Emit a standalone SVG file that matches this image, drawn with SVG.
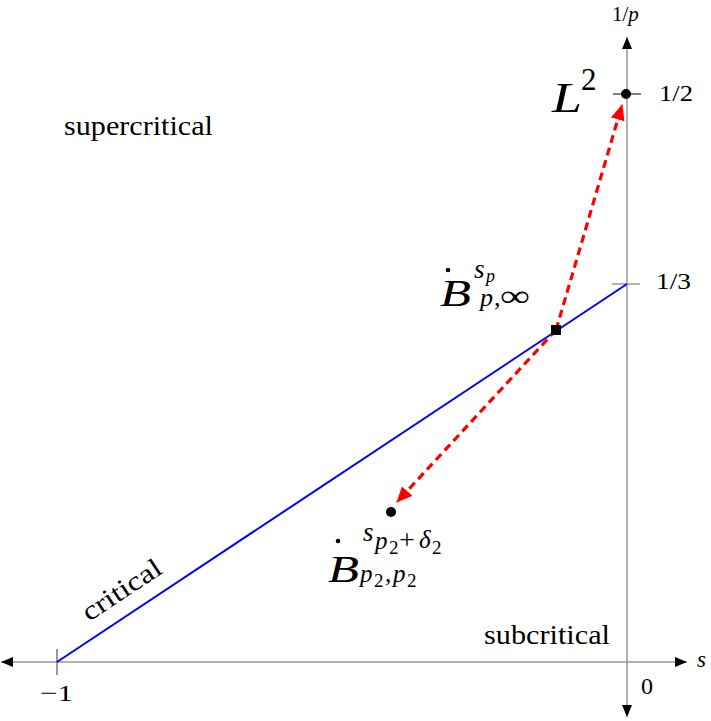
<svg xmlns="http://www.w3.org/2000/svg" width="711" height="721" viewBox="0 0 711 721">
<defs>
<style>
text{font-family:'Liberation Serif','DejaVu Serif',serif;fill:#000}
.i{font-style:italic}
.axis{stroke:#999;stroke-width:1.5;fill:none}
.red{stroke:#ff0000;stroke-width:3.2;stroke-dasharray:8,5;fill:none}
</style>
<marker id="ax" viewBox="0 0 12 10" refX="12" refY="5" markerWidth="12" markerHeight="10" markerUnits="userSpaceOnUse" orient="auto">
<path d="M0,0 L12,5 L0,10 Z" fill="#000"/>
</marker>
<marker id="ra" viewBox="0 0 16 14" refX="15" refY="7" markerWidth="16" markerHeight="14" markerUnits="userSpaceOnUse" orient="auto">
<path d="M0,0 L16,7 L0,14 Z" fill="#ff0000"/>
</marker>
</defs>
<rect width="711" height="721" fill="#fff"/>

<g font-family="Liberation Serif, DejaVu Serif, serif">
<g id="axes">
<line class="axis" x1="627" y1="662" x2="1" y2="662" marker-end="url(#ax)"/>
<line class="axis" x1="627" y1="662" x2="687" y2="662" marker-end="url(#ax)"/>
<line class="axis" x1="627" y1="662" x2="627" y2="37" marker-end="url(#ax)"/>
<line class="axis" x1="627" y1="662" x2="627" y2="717" marker-end="url(#ax)"/>
<line x1="57" y1="649" x2="57" y2="675" stroke="#555" stroke-width="1.2"/>
<line x1="612" y1="284" x2="640" y2="284" stroke="#999" stroke-width="1.5"/>
<line x1="613" y1="94" x2="641" y2="94" stroke="#000" stroke-width="1"/>
<text x="612" y="21" font-size="21">1/<tspan class="i">p</tspan></text>
<text x="659" y="101" font-size="23" textLength="34" lengthAdjust="spacingAndGlyphs">1/2</text>
<text x="656" y="289" font-size="23" textLength="35" lengthAdjust="spacingAndGlyphs">1/3</text>
<text class="i" x="697" y="667" font-size="23">s</text>
<text x="641" y="694" font-size="24">0</text>
<text x="40" y="701" font-size="24" textLength="33" lengthAdjust="spacingAndGlyphs">−1</text>
</g>

<g id="critical-line">
<line x1="57" y1="662" x2="627" y2="284" stroke="#0000ff" stroke-width="2"/>
<text x="0" y="0" font-size="27" textLength="90" lengthAdjust="spacingAndGlyphs" transform="translate(89,622) rotate(-33.56)">critical</text>
</g>

<g id="regions">
<text x="64" y="135" font-size="27" textLength="149" lengthAdjust="spacingAndGlyphs">supercritical</text>
<text x="484" y="644" font-size="27" textLength="126" lengthAdjust="spacingAndGlyphs">subcritical</text>
</g>

<g id="connectors">
<line class="red" x1="556" y1="330" x2="622" y2="105" marker-end="url(#ra)"/>
<line class="red" x1="556" y1="330" x2="397" y2="502" marker-end="url(#ra)"/>
</g>

<g id="node-L2">
<circle cx="626" cy="94" r="5" fill="#000"/>
<text class="i" x="552" y="112" font-size="43" textLength="30" lengthAdjust="spacingAndGlyphs">L</text>
<text x="581" y="90" font-size="31">2</text>
</g>

<g id="node-Bp">
<rect x="551" y="325" width="10" height="10" fill="#000"/>
<circle cx="448" cy="270" r="2.3" fill="#000"/>
<text class="i" x="440" y="306" font-size="38" textLength="31" lengthAdjust="spacingAndGlyphs">B</text>
<text class="i" x="474" y="278" font-size="27">s</text>
<text class="i" x="486" y="282" font-size="18">p</text>
<text class="i" x="480" y="306" font-size="26">p</text>
<text x="494" y="306" font-size="26">,</text>
<text x="500" y="306" font-size="30" textLength="30" lengthAdjust="spacingAndGlyphs">∞</text>
</g>

<g id="node-Bp2">
<circle cx="391" cy="512" r="5" fill="#000"/>
<circle cx="338" cy="541" r="2.3" fill="#000"/>
<text class="i" x="328" y="582" font-size="38" textLength="31" lengthAdjust="spacingAndGlyphs">B</text>
<text class="i" x="363" y="541" font-size="27">s</text>
<text class="i" x="375" y="549" font-size="25">p</text>
<text x="389" y="554" font-size="19">2</text>
<text x="399" y="549" font-size="28">+</text>
<text class="i" x="419" y="548" font-size="25">δ</text>
<text x="432" y="554" font-size="19">2</text>
<text class="i" x="360" y="582" font-size="25">p</text>
<text x="374" y="587" font-size="19">2</text>
<text x="385" y="582" font-size="25">,</text>
<text class="i" x="393" y="582" font-size="25">p</text>
<text x="407" y="587" font-size="19">2</text>
</g>
</g>
</svg>
